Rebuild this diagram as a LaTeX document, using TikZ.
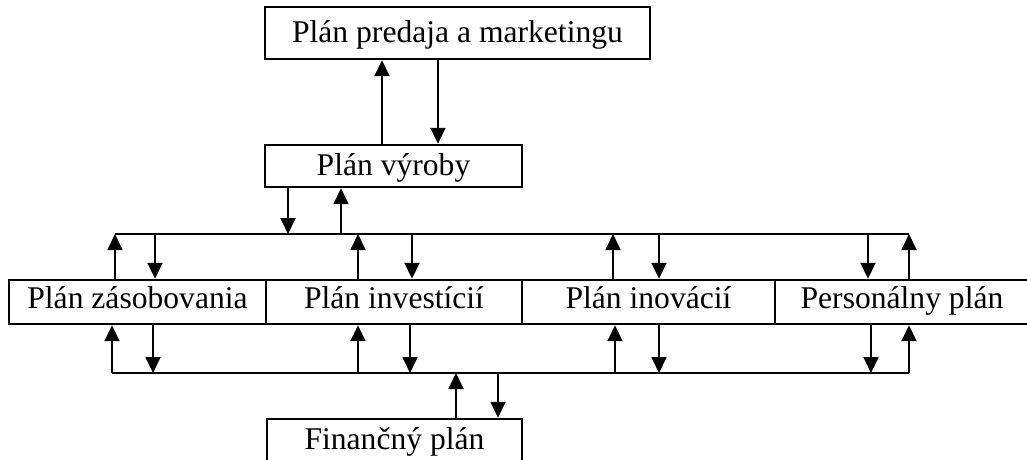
\documentclass[tikz,border=0pt]{standalone}
\usepackage{fontspec}
\setmainfont{Liberation Serif}
\usetikzlibrary{arrows.meta}

\begin{document}
\begin{tikzpicture}[x=1pt,y=-1pt]

\tikzset{PlanBox/.style = {draw, line width=2.4pt, inner sep=0pt, minimum height=42pt,
    text height=22pt, text depth=4pt, font=\fontsize{31.6}{36}\selectfont},
  RowBox/.style = {PlanBox, minimum height=44pt, text depth=10pt},
  FlowArrow/.style = {line width=1.8pt, -{Triangle[width=15pt,length=16pt]}},
  BusLine/.style = {line width=1.6pt}}

\useasboundingbox (0,0) rectangle (1027,459);

\node[PlanBox, minimum width=385pt, minimum height=52pt] (mkt) at (457.5,33) {Plán predaja a marketingu};
\node[PlanBox, minimum width=257pt] (vyr) at (393.5,166) {Plán výroby};

\node[RowBox, minimum width=257pt] (zas) at (137.5,302) {Plán zásobovania};
\node[RowBox, minimum width=256pt] (inv) at (394,302) {Plán investícií};
\node[RowBox, minimum width=253pt] (ino) at (648.5,302) {Plán inovácií};
\node[RowBox, minimum width=254pt] (per) at (902,302) {Personálny plán};

\node[PlanBox, minimum width=255pt] (fin) at (394.5,440) {Finančný plán};

\coordinate (busup-l) at (115,234);
\coordinate (busup-r) at (909,234);
\coordinate (busdn-l) at (112,373);
\coordinate (busdn-r) at (909,373);

\draw[BusLine] (busup-l) -- (busup-r);
\draw[BusLine] (busdn-l) -- (busdn-r);

\draw[FlowArrow] (vyr.north -| 382,0) -- (mkt.south -| 382,0);
\draw[FlowArrow] (mkt.south -| 438,0) -- (vyr.north -| 438,0);

\draw[FlowArrow] (vyr.south -| 288,0) -- (busup-l -| 288,0);
\draw[FlowArrow] (busup-l -| 341,0) -- (vyr.south -| 341,0);

\foreach \plan/\up/\down in {zas/115/155, inv/358/412, ino/613/659, per/909/868}
  \draw[FlowArrow] (\plan.north -| \up,0) -- (busup-l -| \up,0);
\foreach \plan/\up/\down in {zas/115/155, inv/358/412, ino/613/659, per/909/868}
  \draw[FlowArrow] (busup-l -| \down,0) -- (\plan.north -| \down,0);

\foreach \plan/\up/\down in {zas/112/153, inv/358/410, ino/615/659, per/909/871}
  \draw[FlowArrow] (busdn-l -| \up,0) -- (\plan.south -| \up,0);
\foreach \plan/\up/\down in {zas/112/153, inv/358/410, ino/615/659, per/909/871}
  \draw[FlowArrow] (\plan.south -| \down,0) -- (busdn-l -| \down,0);

\draw[FlowArrow] (fin.north -| 456,0) -- (busdn-l -| 456,0);
\draw[FlowArrow] (busdn-l -| 498,0) -- (fin.north -| 498,0);

\end{tikzpicture}
\end{document}
